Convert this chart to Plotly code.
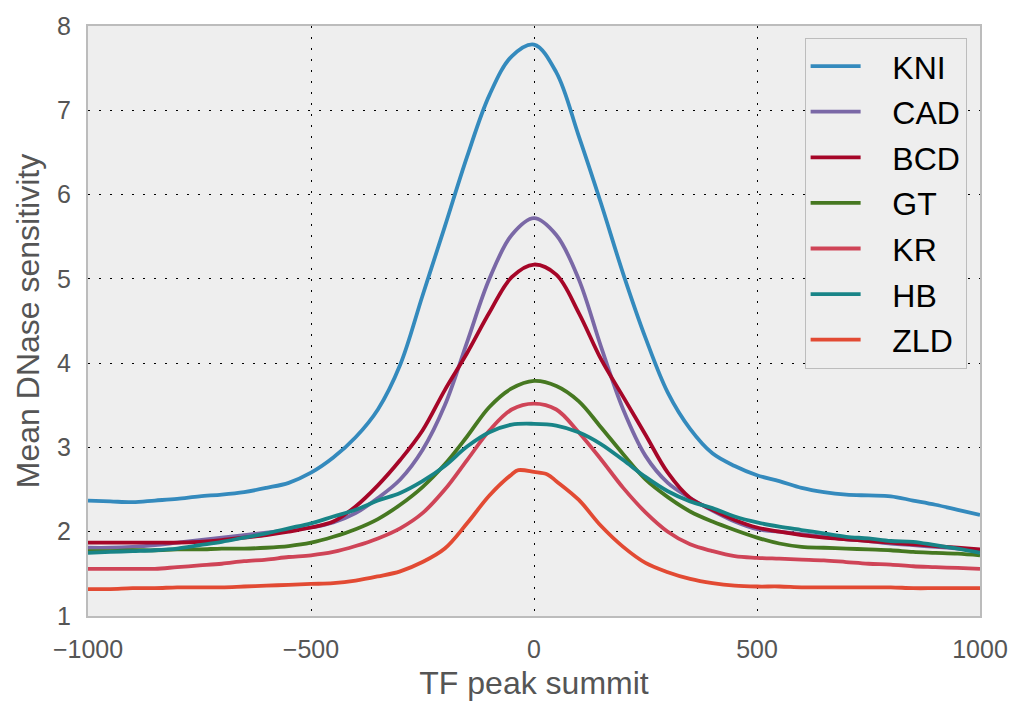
import plotly.graph_objects as go

x = list(range(-1000, 1001, 50))

kni = [2.37, 2.36, 2.35, 2.37, 2.39, 2.42, 2.44, 2.47, 2.52, 2.58, 2.70, 2.88, 3.12, 3.45, 3.98,
       4.80, 5.62, 6.45, 7.18, 7.64, 7.78, 7.45, 6.70, 5.90, 5.06, 4.30, 3.65, 3.22, 2.93, 2.78,
       2.67, 2.60, 2.52, 2.47, 2.44, 2.43, 2.42, 2.37, 2.32, 2.26, 2.20]
cad = [1.81, 1.81, 1.82, 1.84, 1.87, 1.90, 1.93, 1.96, 1.99, 2.02, 2.05, 2.11, 2.22, 2.40, 2.62,
       2.97, 3.50, 4.25, 5.00, 5.52, 5.72, 5.52, 5.00, 4.20, 3.45, 2.90, 2.58, 2.40, 2.25, 2.12,
       2.03, 2.00, 1.97, 1.94, 1.91, 1.89, 1.86, 1.84, 1.82, 1.80, 1.78]
bcd = [1.87, 1.87, 1.87, 1.87, 1.87, 1.88, 1.90, 1.93, 1.96, 2.00, 2.05, 2.12, 2.30, 2.55, 2.85,
       3.20, 3.68, 4.12, 4.60, 5.02, 5.17, 5.05, 4.60, 4.05, 3.60, 3.15, 2.70, 2.40, 2.26, 2.14,
       2.05, 2.00, 1.96, 1.93, 1.91, 1.89, 1.87, 1.85, 1.83, 1.81, 1.79]
gt = [1.77, 1.77, 1.78, 1.78, 1.79, 1.79, 1.80, 1.80, 1.81, 1.83, 1.87, 1.94, 2.03, 2.15, 2.32,
      2.53, 2.80, 3.13, 3.48, 3.70, 3.79, 3.73, 3.55, 3.24, 2.92, 2.62, 2.41, 2.24, 2.12, 2.02,
      1.93, 1.86, 1.82, 1.81, 1.80, 1.79, 1.78, 1.76, 1.75, 1.74, 1.72]
kr = [1.56, 1.56, 1.56, 1.56, 1.58, 1.60, 1.62, 1.65, 1.67, 1.70, 1.72, 1.76, 1.83, 1.92, 2.04,
      2.22, 2.50, 2.85, 3.20, 3.45, 3.52, 3.45, 3.18, 2.86, 2.52, 2.23, 2.00, 1.85, 1.77, 1.71,
      1.69, 1.68, 1.67, 1.66, 1.64, 1.62, 1.61, 1.59, 1.58, 1.57, 1.56]
hb = [1.75, 1.76, 1.77, 1.78, 1.80, 1.84, 1.88, 1.93, 1.98, 2.04, 2.10, 2.18, 2.26, 2.37, 2.46,
      2.60, 2.78, 3.01, 3.18, 3.27, 3.28, 3.26, 3.18, 3.04, 2.85, 2.65, 2.48, 2.36, 2.28, 2.18,
      2.11, 2.06, 2.02, 1.98, 1.94, 1.92, 1.89, 1.88, 1.84, 1.80, 1.75]

x_zld = [-1000, -950, -900, -850, -800, -750, -700, -650, -600, -550, -500, -450, -400, -350, -300,
         -250, -200, -150, -100, -50, -35, 0, 30, 50, 100, 150, 200, 250, 300, 350, 400, 450,
         500, 550, 600, 650, 700, 750, 800, 850, 900, 950, 1000]
zld = [1.32, 1.32, 1.33, 1.33, 1.34, 1.34, 1.34, 1.35, 1.36, 1.37, 1.38, 1.39, 1.42, 1.47, 1.53,
       1.64, 1.80, 2.10, 2.43, 2.68, 2.73, 2.71, 2.68, 2.60, 2.38, 2.07, 1.82, 1.63, 1.52, 1.44,
       1.39, 1.36, 1.35, 1.35, 1.34, 1.34, 1.34, 1.34, 1.34, 1.33, 1.33, 1.33, 1.33]

names = ["KNI", "CAD", "BCD", "GT", "KR", "HB", "ZLD"]
colors = ["#348ABD", "#7A68A6", "#A60628", "#467821", "#CF4457", "#188487", "#E24A33"]
series = [(x, kni), (x, cad), (x, bcd), (x, gt), (x, kr), (x, hb), (x_zld, zld)]

PAD = "\u00a0\u00a0\u00a0"

fig = go.Figure()
for name, color, (xs, ys) in zip(names, colors, series):
    fig.add_trace(go.Scatter(
        x=xs, y=ys, mode="lines", name=PAD + name, legendgroup=name,
        line=dict(color=color, width=3.8, shape="spline", smoothing=1.0),
    ))

axis_common = dict(
    showgrid=True, gridcolor="black", gridwidth=1.3, griddash="2px,9px",
    showline=True, linecolor="#bcbcbc", linewidth=2, mirror=True,
    zeroline=False, ticks="",
    tickfont=dict(family="Liberation Sans, Arial, sans-serif", size=25, color="#555555"),
    title_font=dict(family="Liberation Sans, Arial, sans-serif", size=32, color="#555555"),
)

fig.update_layout(
    width=1020, height=707,
    margin=dict(l=88, r=40, t=22, b=90),
    paper_bgcolor="white", plot_bgcolor="#eeeeee",
    showlegend=True,
    legend=dict(
        x=0.985, y=0.98, xanchor="right", yanchor="top",
        bgcolor="#eeeeee", bordercolor="#bcbcbc", borderwidth=1,
        font=dict(family="Liberation Sans, Arial, sans-serif", size=32, color="black"),
        tracegroupgap=1, traceorder="grouped", itemwidth=50,
    ),
)
fig.update_xaxes(range=[-1000, 1000], tickvals=[-1000, -500, 0, 500, 1000],
                 title_text="TF peak summit", title_standoff=10, ticklabelstandoff=10,
                 **axis_common)
fig.update_yaxes(range=[1, 8], tickvals=[1, 2, 3, 4, 5, 6, 7, 8],
                 title_text="Mean DNase sensitivity", title_standoff=8, ticklabelstandoff=10,
                 **axis_common)

fig.write_html("out.html")
